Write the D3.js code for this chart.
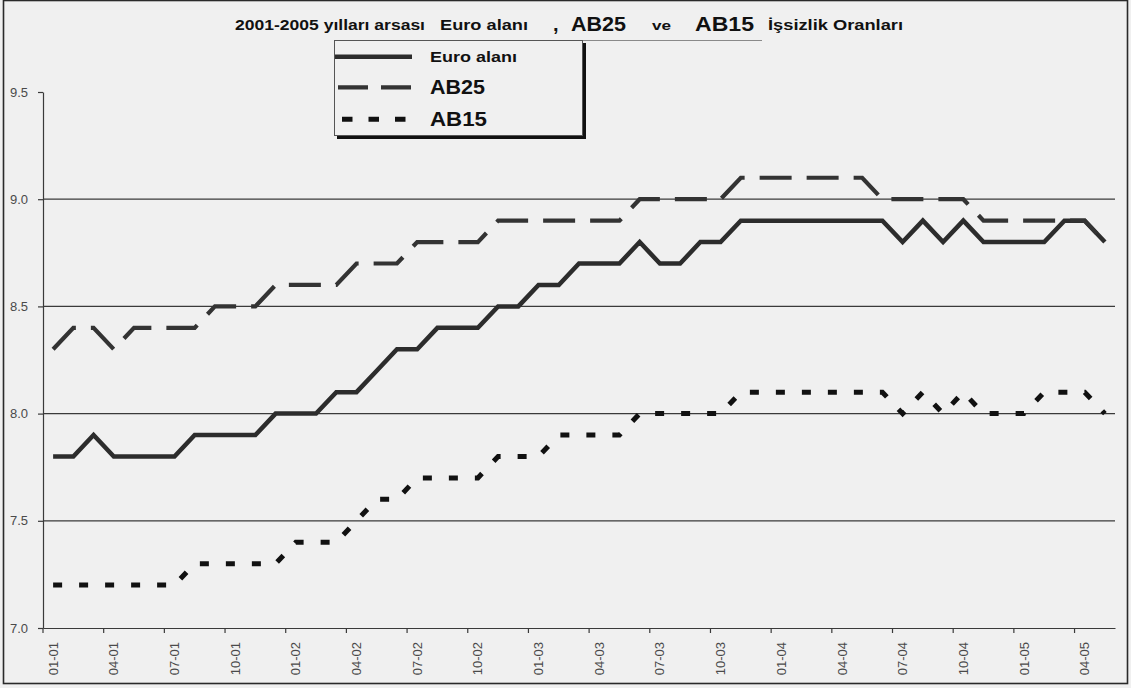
<!DOCTYPE html>
<html>
<head>
<meta charset="utf-8">
<script src="https://cdn.jsdelivr.net/npm/d3@7/dist/d3.min.js"></script>
<style>
  html, body { margin: 0; padding: 0; background: #f0f0f0; }
  svg { display: block; }
</style>
</head>
<body>
<svg id="chart" width="1131" height="688"></svg>
<script>
// Monthly categories, Jan 2001 – May 2005 (MM-YY)
const categories = [
  "01-01","02-01","03-01","04-01","05-01","06-01","07-01","08-01","09-01","10-01","11-01","12-01",
  "01-02","02-02","03-02","04-02","05-02","06-02","07-02","08-02","09-02","10-02","11-02","12-02",
  "01-03","02-03","03-03","04-03","05-03","06-03","07-03","08-03","09-03","10-03","11-03","12-03",
  "01-04","02-04","03-04","04-04","05-04","06-04","07-04","08-04","09-04","10-04","11-04","12-04",
  "01-05","02-05","03-05","04-05","05-05"
];

// Unemployment rates (%)
const euroAlani = [
  7.8, 7.8, 7.9, 7.8, 7.8, 7.8, 7.8, 7.9, 7.9, 7.9, 7.9, 8.0,
  8.0, 8.0, 8.1, 8.1, 8.2, 8.3, 8.3, 8.4, 8.4, 8.4, 8.5, 8.5,
  8.6, 8.6, 8.7, 8.7, 8.7, 8.8, 8.7, 8.7, 8.8, 8.8, 8.9, 8.9,
  8.9, 8.9, 8.9, 8.9, 8.9, 8.9, 8.8, 8.9, 8.8, 8.9, 8.8, 8.8,
  8.8, 8.8, 8.9, 8.9, 8.8
];
const ab25 = [
  8.3, 8.4, 8.4, 8.3, 8.4, 8.4, 8.4, 8.4, 8.5, 8.5, 8.5, 8.6,
  8.6, 8.6, 8.6, 8.7, 8.7, 8.7, 8.8, 8.8, 8.8, 8.8, 8.9, 8.9,
  8.9, 8.9, 8.9, 8.9, 8.9, 9.0, 9.0, 9.0, 9.0, 9.0, 9.1, 9.1,
  9.1, 9.1, 9.1, 9.1, 9.1, 9.0, 9.0, 9.0, 9.0, 9.0, 8.9, 8.9,
  8.9, 8.9, 8.9, 8.9, 8.8
];
const ab15 = [
  7.2, 7.2, 7.2, 7.2, 7.2, 7.2, 7.2, 7.3, 7.3, 7.3, 7.3, 7.3,
  7.4, 7.4, 7.4, 7.5, 7.6, 7.6, 7.7, 7.7, 7.7, 7.7, 7.8, 7.8,
  7.8, 7.9, 7.9, 7.9, 7.9, 8.0, 8.0, 8.0, 8.0, 8.0, 8.1, 8.1,
  8.1, 8.1, 8.1, 8.1, 8.1, 8.1, 8.0, 8.1, 8.0, 8.1, 8.0, 8.0,
  8.0, 8.1, 8.1, 8.1, 8.0
];

const xTickLabels = [
  "01-01","04-01","07-01","10-01","01-02","04-02","07-02","10-02","01-03",
  "04-03","07-03","10-03","01-04","04-04","07-04","10-04","01-05","04-05"
];
const yTicks = [7.0, 7.5, 8.0, 8.5, 9.0, 9.5];
const gridValues = [7.5, 8.0, 8.5, 9.0];

const seriesNames = ["Euro alanı", "AB25", "AB15"];

const svg = d3.select("#chart");
const plot = { left: 43, right: 1115, top: 92, bottom: 628 };

// Chart background and frame
svg.append("rect").attr("x", 0).attr("y", 0).attr("width", 1131).attr("height", 688).attr("fill", "#f0f0f0");
svg.append("rect")
  .attr("x", 3.5).attr("y", 0.5).attr("width", 1124).attr("height", 683)
  .attr("fill", "none").attr("stroke", "#2a2a2a").attr("stroke-width", 1.6);

const x = d3.scaleBand().domain(categories).range([plot.left, plot.right]).padding(0);
const y = d3.scaleLinear().domain([7, 9.5]).range([plot.bottom, plot.top]);
const half = x.bandwidth() / 2;

// Horizontal gridlines
svg.append("g").selectAll("line").data(gridValues).join("line")
  .attr("x1", plot.left).attr("x2", plot.right)
  .attr("y1", d => y(d)).attr("y2", d => y(d))
  .attr("stroke", "#3a3a3a").attr("stroke-width", 1.2);

// Y axis
const yAxis = svg.append("g")
  .attr("transform", `translate(${plot.left},0)`)
  .call(d3.axisLeft(y).tickValues(yTicks).tickFormat(d3.format(".1f")).tickSizeInner(5).tickSizeOuter(0).tickPadding(10));
yAxis.select(".domain").attr("stroke", "#3a3a3a").attr("stroke-width", 1.2);
yAxis.selectAll(".tick line").attr("stroke", "#3a3a3a").attr("stroke-width", 1.2);
yAxis.selectAll(".tick text")
  .attr("font-family", "Liberation Sans, Arial, sans-serif")
  .attr("font-size", 13).attr("fill", "#4a4a4a");

// X axis: labels centred on months, tick marks on the month boundaries
const xAxis = svg.append("g")
  .attr("transform", `translate(0,${plot.bottom})`)
  .call(d3.axisBottom(x).tickValues(xTickLabels).tickSizeInner(5).tickSizeOuter(0).tickPadding(8));
xAxis.select(".domain").attr("stroke", "#3a3a3a").attr("stroke-width", 1.2);
xAxis.selectAll(".tick line")
  .attr("x1", -half).attr("x2", -half)
  .attr("stroke", "#3a3a3a").attr("stroke-width", 1.2);
xAxis.selectAll(".tick text")
  .attr("font-family", "Liberation Sans, Arial, sans-serif")
  .attr("font-size", 13).attr("fill", "#4a4a4a")
  .attr("transform", "rotate(-90)")
  .attr("text-anchor", "end")
  .attr("x", -14).attr("y", 0).attr("dy", "0.35em");

// Series lines
const line = d3.line()
  .x((d, i) => x(categories[i]) + half)
  .y(d => y(d));

const styles = [
  { data: euroAlani, stroke: "#2c2c2c", width: 4.5, dash: null },
  { data: ab25, stroke: "#333333", width: 4.2, dash: "32,15" },
  { data: ab15, stroke: "#111111", width: 5, dash: "9,17" }
];

styles.forEach(s => {
  svg.append("path")
    .datum(s.data)
    .attr("d", line)
    .attr("fill", "none")
    .attr("stroke", s.stroke)
    .attr("stroke-width", s.width)
    .attr("stroke-linejoin", "miter")
    .attr("stroke-dasharray", s.dash);
});

// Title
const title = svg.append("g").attr("font-family", "Liberation Sans, Arial, sans-serif").attr("font-weight", "bold").attr("fill", "#111");
const titleParts = [
  { t: "2001-2005 yılları arsası", x: 235, len: 190, size: 15, base: 30 },
  { t: "Euro alanı", x: 440, len: 88, size: 15, base: 30 },
  { t: ",", x: 553, len: null, size: 20, base: 31 },
  { t: "AB25", x: 571, len: 55, size: 21, base: 31 },
  { t: "ve", x: 652, len: 19, size: 13, base: 30 },
  { t: "AB15", x: 695, len: 59, size: 21, base: 31 },
  { t: "İşsizlik Oranları", x: 768, len: 135, size: 15, base: 30 }
];
titleParts.forEach(p => {
  const el = title.append("text").attr("x", p.x).attr("y", p.base).attr("font-size", p.size).text(p.t);
  if (p.len) el.attr("textLength", p.len).attr("lengthAdjust", "spacingAndGlyphs");
});
svg.append("line").attr("x1", 334).attr("x2", 762).attr("y1", 40.5).attr("y2", 40.5)
  .attr("stroke", "#8a8a8a").attr("stroke-width", 1);

// Legend
const legend = svg.append("g");
legend.append("rect").attr("x", 337).attr("y", 43).attr("width", 249).attr("height", 96).attr("fill", "#111");
legend.append("rect").attr("x", 334.5).attr("y", 40.5).attr("width", 248).attr("height", 95)
  .attr("fill", "#f0f0f0").attr("stroke", "#555").attr("stroke-width", 1);

const legendRows = [
  { name: seriesNames[0], y: 56.7, x1: 335, x2: 412, style: styles[0], size: 15, len: 87, base: 62 },
  { name: seriesNames[1], y: 87.3, x1: 338, x2: 412, style: styles[1], size: 21, len: 55, base: 94 },
  { name: seriesNames[2], y: 119.3, x1: 342, x2: 407, style: styles[2], size: 21, len: 57, base: 125.5 }
];
legendRows.forEach((r, i) => {
  legend.append("line")
    .attr("x1", r.x1).attr("x2", r.x2).attr("y1", r.y).attr("y2", r.y)
    .attr("stroke", r.style.stroke).attr("stroke-width", r.style.width)
    .attr("stroke-dasharray", i === 1 ? "30,13" : (i === 2 ? "10.5,16" : null));
  legend.append("text")
    .attr("x", 430).attr("y", r.base)
    .attr("font-family", "Liberation Sans, Arial, sans-serif")
    .attr("font-weight", "bold").attr("font-size", r.size).attr("fill", "#111")
    .attr("textLength", r.len).attr("lengthAdjust", "spacingAndGlyphs")
    .text(r.name);
});
</script>
</body>
</html>
